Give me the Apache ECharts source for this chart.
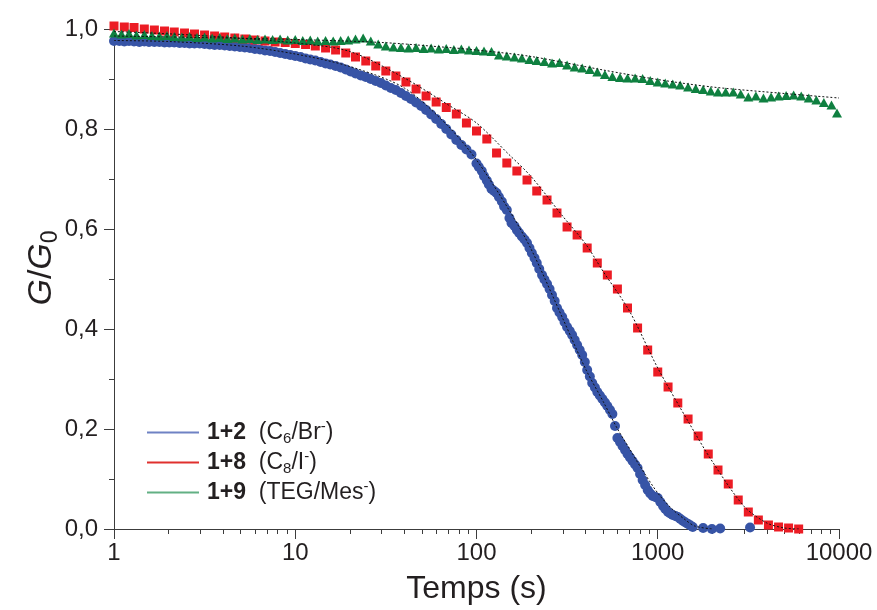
<!DOCTYPE html>
<html>
<head>
<meta charset="utf-8">
<script src="https://cdn.jsdelivr.net/npm/echarts@6/dist/echarts.min.js"></script>
<style>
html,body{margin:0;padding:0;background:#fff;}
#chart{width:877px;height:610px;}
</style>
</head>
<body>
<div id="chart"></div>
<script>
// ---- Data ----
const blueT = [1,1.07,1.14,1.21,1.29,1.38,1.47,1.56,1.67,1.78,1.90,2.02,2.15,2.30,2.45,2.61,2.78,2.97,3.16,3.37,3.59,3.83,4.08,4.35,4.64,4.95,5.27,5.62,5.99,6.39,6.81,7.26,7.74,8.25,8.80,9.38,
10,10.7,11.4,12.1,12.9,13.8,14.7,15.6,16.7,17.8,19.0,20.2,21.5,23.0,24.5,26.1,27.8,29.7,31.6,33.7,35.9,38.3,40.8,43.5,46.4,49.5,52.7,56.2,59.9,63.9,68.1,72.6,77.4,82.5,88.0,93.8,
100,107,114,121,129,138,147,156,167,178,190,202,215,230,245,261,278,297,316,337,359,383,408,435,464,495,527,562,599,639,681,726,774,825,880,938,
1000,1070,1140,1210,1290,1380,1470,1560,1780,1990,2210,3230];
const blueG = [0.976,0.976,0.975,0.976,0.975,0.974,0.975,0.974,0.974,0.974,0.973,0.973,0.973,0.972,0.972,0.971,0.971,0.971,0.970,0.969,0.968,0.968,0.967,0.966,0.965,0.964,0.963,0.962,0.960,0.959,0.957,0.956,0.954,0.952,0.950,0.948,
0.946,0.944,0.941,0.939,0.937,0.934,0.931,0.929,0.926,0.923,0.919,0.915,0.911,0.907,0.904,0.900,0.896,0.892,0.887,0.882,0.878,0.872,0.866,0.860,0.853,0.846,0.838,0.829,0.820,0.810,0.800,0.789,0.778,0.768,0.759,0.749,
0.731,0.716,0.697,0.680,0.672,0.655,0.638,0.612,0.598,0.585,0.572,0.552,0.532,0.508,0.490,0.468,0.442,0.424,0.404,0.388,0.368,0.348,0.318,0.292,0.274,0.260,0.246,0.230,0.182,0.166,0.150,0.136,0.122,0.098,0.078,0.066,
0.062,0.046,0.034,0.028,0.024,0.016,0.010,0.004,0.002,0.000,0.001,0.003];
// extra (interleaved) blue readings in the fast-decay region
const blueMidT = [103,110,117,125,133,142,152,162,172,184,196,209,222,237,253,270,287,306,327,348,371,396,422,450,479,511,545,581,619,660,703,750,799,852,909,969,1033,1101,1173,1251,1334,1422,1516];
const blueMidG = [0.724,0.706,0.689,0.676,0.664,0.645,0.622,0.606,0.592,0.579,0.562,0.542,0.520,0.499,0.480,0.456,0.433,0.414,0.396,0.378,0.358,0.334,0.305,0.283,0.267,0.253,0.238,0.206,0.174,0.158,0.143,0.129,0.110,0.088,0.071,0.064,0.054,0.040,0.031,0.026,0.020,0.013,0.007];

const redT = [1,1.14,1.29,1.47,1.67,1.90,2.15,2.45,2.78,3.16,3.59,4.08,4.64,5.27,5.99,6.81,7.74,8.80,
10,11.4,12.9,14.7,16.7,19.0,21.5,24.5,27.8,31.6,35.9,40.8,46.4,52.7,59.9,68.1,77.4,88.0,
100,114,129,147,167,190,215,245,278,316,359,408,464,527,599,681,774,880,
1000,1140,1290,1470,1670,1900,2150,2450,2780,3160,3590,4080,4640,5270,5990];
const redG = [1.006,1.004,1.003,1.000,0.998,0.996,0.994,0.992,0.990,0.988,0.986,0.984,0.982,0.980,0.978,0.976,0.974,0.973,
0.971,0.969,0.966,0.962,0.958,0.952,0.944,0.936,0.926,0.916,0.906,0.894,0.880,0.866,0.854,0.843,0.830,0.812,
0.796,0.780,0.752,0.732,0.716,0.698,0.676,0.658,0.632,0.604,0.588,0.562,0.532,0.508,0.480,0.442,0.402,0.358,
0.314,0.284,0.252,0.220,0.186,0.150,0.118,0.090,0.058,0.034,0.018,0.008,0.004,0.002,0.000];

const greenT = [1,1.10,1.21,1.33,1.47,1.62,1.78,1.96,2.15,2.37,2.61,2.87,3.16,3.48,3.83,4.22,4.64,5.11,5.62,6.19,6.81,7.50,8.25,9.09,
10,11.0,12.1,13.3,14.7,16.2,17.8,19.6,21.5,23.7,26.1,28.7,31.6,34.8,38.3,42.2,46.4,51.1,56.2,61.9,68.1,75.0,82.5,90.9,
100,110,121,133,147,162,178,196,215,237,261,287,316,348,383,422,464,511,562,619,681,750,825,909,
1000,1100,1210,1330,1470,1620,1780,1960,2150,2370,2610,2870,3160,3480,3830,4220,4640,5110,5620,6190,6810,7500,8250,9090,9750];
const greenG = [0.992,0.990,0.991,0.988,0.989,0.987,0.986,0.987,0.985,0.984,0.985,0.983,0.984,0.982,0.983,0.981,0.982,0.980,0.981,0.979,0.980,0.979,0.980,0.978,
0.979,0.977,0.978,0.976,0.977,0.976,0.977,0.978,0.980,0.982,0.976,0.970,0.966,0.964,0.963,0.962,0.963,0.961,0.962,0.960,0.961,0.959,0.960,0.958,
0.957,0.956,0.955,0.948,0.946,0.944,0.942,0.939,0.937,0.935,0.932,0.933,0.928,0.924,0.922,0.919,0.914,0.909,0.905,0.903,0.902,0.902,0.901,0.897,
0.894,0.892,0.890,0.888,0.884,0.881,0.879,0.876,0.874,0.874,0.874,0.870,0.864,0.866,0.862,0.864,0.866,0.867,0.868,0.866,0.862,0.858,0.853,0.848,0.832];

const fitBlueT = [1,2,5,10,20,40,70,100,150,200,300,400,500,600,700,800,1000,1200,1400,1600,2000];
const fitBlueG = [0.977,0.975,0.966,0.950,0.925,0.882,0.805,0.738,0.640,0.560,0.420,0.320,0.255,0.200,0.160,0.125,0.072,0.040,0.020,0.006,0.000];
const fitRedT = [1,3,10,20,40,70,100,150,200,300,400,500,700,1000,1500,2000,3000,4000,5000,6000];
const fitRedG = [0.995,0.987,0.972,0.955,0.902,0.848,0.812,0.750,0.705,0.625,0.570,0.515,0.435,0.322,0.210,0.135,0.045,0.012,0.002,0.000];
const fitGreenT = [1,3,10,30,70,100,200,500,1000,2000,5000,10000];
const fitGreenG = [0.986,0.983,0.979,0.973,0.963,0.958,0.945,0.918,0.899,0.884,0.871,0.862];

const yMajorTicks = [0,0.2,0.4,0.6,0.8,1.0];
const yMinorTicks = [0.1,0.3,0.5,0.7,0.9];
const xMinorTicks = [2,3,4,5,6,7,8,9,20,30,40,50,60,70,80,90,200,300,400,500,600,700,800,900,2000,3000,4000,5000,6000,7000,8000,9000];

const seriesNames = ['1+2','1+8','1+9'];
const legendLabels = {
  '1+2': '{b|1+2}  {n|(C}{sub|6}{n|/Br}{sup|-}{n|)}',
  '1+8': '{b|1+8}  {n|(C}{sub|8}{n|/I}{sup|-}{n|)}',
  '1+9': '{b|1+9}  {n|(TEG/Mes}{sup|-}{n|)}'
};

// ---- Chart ----
const zip = (a, b) => a.map((v, i) => [v, b[i]]);
const FONT = '"Liberation Sans", Arial, sans-serif';
const AXC = '#3c3c3c';
const TXT = '#231f20';

const chart = echarts.init(document.getElementById('chart'), null, {renderer: 'canvas'});
const fitStyle = {color: '#111111', width: 1, type: [2, 2]};

chart.setOption({
  backgroundColor: '#ffffff',
  animation: false,
  textStyle: {fontFamily: FONT},
  grid: {left: 114, right: 38, top: 23, bottom: 81, containLabel: false},
  graphic: [{
    type: 'text', x: 42, y: 268, rotation: Math.PI / 2, silent: true,
    style: {
      text: '{i|G}{n|/}{i|G}{s|0}', align: 'center', verticalAlign: 'middle',
      fontFamily: FONT, fontSize: 34, fill: TXT,
      rich: {
        i: {fontFamily: FONT, fontSize: 34, fontStyle: 'italic', fill: TXT},
        n: {fontFamily: FONT, fontSize: 34, fill: TXT},
        s: {fontFamily: FONT, fontSize: 23, fill: TXT, padding: [18,0,0,0]}
      }
    }
  }],
  legend: {
    orient: 'vertical', left: 142, top: 414, itemWidth: 52, itemHeight: 2, itemGap: 3,
    icon: 'rect',
    data: [
      {name: '1+2', itemStyle: {color: '#6f82c4'}},
      {name: '1+8', itemStyle: {color: '#e0302e'}},
      {name: '1+9', itemStyle: {color: '#62b084'}}
    ],
    formatter: (name) => legendLabels[name],
    textStyle: {
      fontFamily: FONT, fontSize: 23, color: TXT,
      rich: {
        b: {fontFamily: FONT, fontSize: 23, fontWeight: 'bold', color: TXT, padding: [0,0,0,3]},
        n: {fontFamily: FONT, fontSize: 23, color: TXT},
        sub: {fontFamily: FONT, fontSize: 15, color: TXT, padding: [12,0,0,0]},
        sup: {fontFamily: FONT, fontSize: 15, color: TXT, padding: [0,0,12,0]}
      }
    }
  },
  xAxis: [{
    type: 'log', logBase: 10, min: 1, max: 10000,
    name: 'Temps (s)', nameLocation: 'middle', nameGap: 44,
    nameTextStyle: {fontFamily: FONT, fontSize: 32, color: TXT},
    axisLine: {show: true, lineStyle: {color: AXC, width: 1}},
    axisTick: {show: true, length: 10, lineStyle: {color: AXC}},
    axisLabel: {fontFamily: FONT, fontSize: 24, color: TXT, margin: 12, formatter: (v) => String(v)},
    splitLine: {show: false}
  }, {
    type: 'log', logBase: 10, min: 1, max: 10000, position: 'bottom',
    axisLine: {show: false},
    axisTick: {show: true, length: 5, customValues: xMinorTicks, lineStyle: {color: AXC}},
    axisLabel: {show: false},
    splitLine: {show: false}
  }],
  yAxis: [{
    type: 'value', min: 0, max: 1.012, position: 'left',
    axisLine: {show: true, lineStyle: {color: AXC, width: 1}},
    axisTick: {show: true, length: 10, customValues: yMajorTicks, lineStyle: {color: AXC}},
    axisLabel: {fontFamily: FONT, fontSize: 24, color: TXT, margin: 16, customValues: yMajorTicks,
      formatter: (v) => v.toFixed(1).replace('.', ',')},
    splitLine: {show: false}
  }, {
    type: 'value', min: 0, max: 1.012, position: 'left',
    axisLine: {show: false},
    axisTick: {show: true, length: 5, customValues: yMinorTicks, lineStyle: {color: AXC}},
    axisLabel: {show: false},
    splitLine: {show: false}
  }],
  series: [
    {name: '1+2', type: 'scatter', data: zip(blueT, blueG).concat(zip(blueMidT, blueMidG)), symbol: 'circle', symbolSize: 10, clip: false,
     itemStyle: {color: '#3754a6', opacity: 1}},
    {name: '1+8', type: 'scatter', data: zip(redT, redG), symbol: 'rect', symbolSize: 9, clip: false,
     itemStyle: {color: '#ec1c24', opacity: 1}},
    {name: '1+9', type: 'scatter', data: zip(greenT, greenG), symbol: 'triangle', symbolSize: [10, 9], clip: false,
     itemStyle: {color: '#0f8040', opacity: 1}},
    {name: 'fit12', type: 'line', data: zip(fitBlueT, fitBlueG), smooth: 0.3, symbol: 'none', lineStyle: fitStyle, z: 5},
    {name: 'fit18', type: 'line', data: zip(fitRedT, fitRedG), smooth: 0.3, symbol: 'none', lineStyle: fitStyle, z: 5},
    {name: 'fit19', type: 'line', data: zip(fitGreenT, fitGreenG), smooth: 0.3, symbol: 'none', lineStyle: fitStyle, z: 5}
  ]
});
</script>
</body>
</html>
